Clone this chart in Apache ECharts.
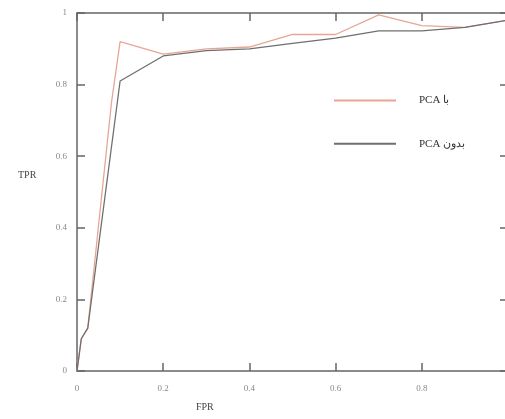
<!DOCTYPE html>
<html>
<head>
<meta charset="utf-8">
<script src="https://cdn.jsdelivr.net/npm/echarts@6/dist/echarts.min.js"></script>
<style>
    html, body { margin: 0; padding: 0; background: #fff; }
    #chart { width: 505px; height: 419px; }
</style>
</head>
<body>
<div id="chart"></div>
<script>
// ROC curves
var fprWith = [0, 0.01, 0.025, 0.08, 0.1, 0.2, 0.3, 0.4, 0.5, 0.6, 0.7, 0.8, 0.9, 1.0];
var tprWith = [0, 0.09, 0.12, 0.75, 0.92, 0.885, 0.9, 0.905, 0.94, 0.94, 0.995, 0.965, 0.96, 0.98];
var fprWithout = [0, 0.01, 0.025, 0.1, 0.2, 0.3, 0.4, 0.5, 0.6, 0.7, 0.8, 0.9, 1.0];
var tprWithout = [0, 0.09, 0.12, 0.81, 0.88, 0.895, 0.9, 0.915, 0.93, 0.95, 0.95, 0.96, 0.98];
var xTicks = ['0', '0.2', '0.4', '0.6', '0.8', '1'];
var yTicks = ['0', '0.2', '0.4', '0.6', '0.8', '1'];

var nameWith = 'PCA با';
var nameWithout = 'PCA بدون';

function pairs(xs, ys) {
    var out = [];
    for (var i = 0; i < xs.length; i++) {
        out.push([xs[i], ys[i]]);
    }
    return out;
}

var font = '"Liberation Serif", "DejaVu Serif", serif';
var axisGray = '#666';

function boxAxis(ticks, show) {
    return {
        type: 'value',
        min: 0,
        max: 1,
        interval: 0.2,
        axisLine: {show: true, onZero: false, lineStyle: {color: axisGray, width: 1.5}},
        axisTick: {show: true, inside: true, length: 8, lineStyle: {color: axisGray, width: 1.5}},
        splitLine: {show: false},
        axisLabel: {
            show: show,
            color: '#888',
            fontFamily: font,
            fontSize: 9,
            formatter: function (v) {
                return ticks[Math.round(v / 0.2)];
            }
        }
    };
}

var chart = echarts.init(document.getElementById('chart'));

var xb = boxAxis(xTicks, true);
xb.position = 'bottom';
xb.axisLabel.margin = 13;
var xt = boxAxis(xTicks, false);
xt.position = 'top';
var yl = boxAxis(yTicks, true);
yl.position = 'left';
yl.axisLabel.margin = 10;
var yr = boxAxis(yTicks, false);
yr.position = 'right';

chart.setOption({
    animation: false,
    grid: {left: 77, top: 13, width: 431, height: 358, containLabel: false, outerBoundsMode: 'none'},
    xAxis: [xb, xt],
    yAxis: [yl, yr],
    legend: {
        orient: 'vertical',
        left: 328,
        top: 90,
        itemWidth: 62,
        itemHeight: 14,
        itemGap: 32,
        itemStyle: {opacity: 0},
        textStyle: {fontFamily: font, fontSize: 11, color: '#333', padding: [0, 0, 0, 18]},
        data: [nameWith, nameWithout]
    },
    graphic: [
        {type: 'text', left: 18, top: 170, style: {text: 'TPR', font: '10px ' + font, fill: '#444'}},
        {type: 'text', left: 196, top: 402, style: {text: 'FPR', font: '10px ' + font, fill: '#444'}}
    ],
    series: [
        {
            name: nameWith,
            type: 'line',
            symbol: 'none',
            data: pairs(fprWith, tprWith),
            lineStyle: {color: '#e8a595', width: 1.3},
            itemStyle: {color: '#e8a595'}
        },
        {
            name: nameWithout,
            type: 'line',
            symbol: 'none',
            data: pairs(fprWithout, tprWithout),
            lineStyle: {color: '#6f6f6f', width: 1.3},
            itemStyle: {color: '#6f6f6f'}
        }
    ]
});
</script>
</body>
</html>
